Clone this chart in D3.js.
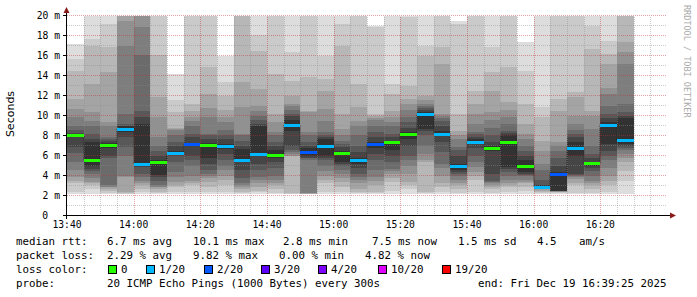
<!DOCTYPE html>
<html>
<head>
<meta charset="utf-8">
<script src="https://cdn.jsdelivr.net/npm/d3@7"></script>
<style>
body{margin:0;background:#fff}
text{font-family:"DejaVu Sans Mono",monospace}
</style>
</head>
<body>
<svg id="chart" width="697" height="297"></svg>
<script>
// one column every 5 minutes, starting 13:40
var startTime = new Date(2025, 11, 19, 13, 40),
	endTime = new Date(2025, 11, 19, 16, 40);

var medians = [8.0, 5.57, 7.07, 8.67, 5.13, 5.4, 6.23, 7.13, 7.07, 6.93, 5.53, 6.13, 6.03, 9.07, 6.4, 7.0, 6.23,
	5.53, 7.17, 7.33, 8.2, 10.17, 8.2, 4.93, 7.4, 6.73, 7.33, 4.97, 2.87, 4.2, 6.77, 5.23, 9.1, 7.53];

// lost pings (out of 20) per column
var losses = [0, 0, 0, 1, 1, 0, 1, 2, 0, 1, 1, 1, 0, 1, 2, 1, 0, 1, 2, 0, 0, 1, 1, 1, 1, 0, 0, 0, 1, 2, 1, 0, 1, 1];

// 20 sorted ping rtts (ms) per column, values over 20 are off the chart
var pings = [
	[2.2, 2.4, 3.3, 3.5, 3.9, 4.6, 5.4, 6.3, 6.9, 7.9, 8.1, 8.3, 8.6, 9.0, 9.9, 10.7, 11.7, 14.5, 15.7, 17.2],
	[2.2, 2.6, 3.0, 3.2, 3.4, 3.8, 4.2, 4.5, 4.7, 5.0, 7.4, 7.6, 8.2, 9.0, 9.5, 10.4, 13.2, 17.0, 17.7, 21],
	[2.2, 2.3, 2.5, 2.7, 2.8, 2.9, 3.0, 5.8, 5.9, 6.8, 7.3, 7.5, 7.7, 7.9, 8.9, 9.4, 14.4, 16.9, 19.2, 21],
	[2.2, 2.2, 2.3, 2.4, 3.9, 4.0, 5.9, 6.9, 7.9, 8.4, 8.9, 9.0, 9.2, 10.2, 17.0, 19.5, 21, 22, 22, 22],
	[2.2, 2.4, 2.6, 3.0, 3.2, 3.5, 3.9, 4.2, 4.9, 5.2, 9.2, 9.9, 10.5, 16.0, 18.9, 21, 22, 22, 22, 22],
	[2.2, 2.3, 2.4, 2.6, 2.8, 2.9, 3.1, 3.5, 3.9, 4.1, 5.5, 5.9, 6.5, 7.0, 7.9, 9.9, 11.9, 16.0, 21, 22],
	[2.2, 2.4, 2.8, 3.1, 3.4, 3.9, 4.4, 5.4, 5.9, 6.1, 6.5, 7.0, 7.4, 8.1, 8.6, 8.7, 8.8, 10.4, 11.6, 14.2],
	[2.2, 2.4, 3.0, 3.2, 3.5, 4.0, 5.0, 5.5, 5.9, 7.0, 7.2, 7.8, 8.2, 9.0, 9.5, 9.9, 10.5, 11.2, 21, 22],
	[2.2, 2.4, 2.8, 3.4, 3.8, 4.0, 4.2, 4.6, 5.2, 5.7, 7.3, 7.6, 8.0, 8.2, 9.9, 10.8, 12.2, 14.9, 21, 22],
	[2.2, 2.4, 3.0, 3.6, 4.0, 4.6, 5.0, 5.5, 6.2, 6.7, 7.2, 7.6, 8.0, 8.6, 9.4, 9.9, 10.6, 12.0, 13.4, 15.9],
	[2.2, 2.3, 2.4, 2.6, 2.8, 3.0, 3.2, 3.8, 4.6, 5.3, 6.7, 7.0, 7.5, 8.0, 8.2, 10.9, 13.4, 21, 22, 22],
	[2.2, 2.4, 2.5, 2.8, 3.2, 3.6, 3.9, 4.6, 5.2, 6.0, 8.9, 9.2, 9.6, 10.0, 10.5, 11.0, 12.7, 16.5, 18.0, 21],
	[2.2, 2.3, 2.6, 3.0, 3.2, 3.6, 4.0, 4.8, 5.4, 5.8, 6.6, 7.0, 7.4, 8.0, 8.4, 9.4, 10.2, 14.2, 21, 22],
	[2.2, 2.2, 2.3, 5.9, 6.0, 6.2, 6.4, 6.6, 7.0, 8.5, 9.6, 10.0, 10.2, 10.6, 11.0, 11.2, 12.0, 13.5, 16.4, 21],
	[2.2, 2.2, 2.2, 2.2, 2.3, 2.3, 5.6, 5.7, 5.8, 6.0, 6.8, 7.0, 7.4, 8.0, 8.4, 10.4, 10.5, 13.9, 21, 22],
	[2.2, 2.4, 3.2, 3.6, 4.0, 4.5, 5.0, 5.5, 5.8, 6.0, 7.6, 7.8, 8.0, 8.4, 9.5, 10.7, 12.5, 13.7, 15.9, 21],
	[2.2, 2.4, 2.9, 3.4, 3.8, 4.2, 4.6, 5.0, 5.2, 5.3, 6.5, 6.9, 7.2, 7.5, 8.0, 8.7, 10.2, 17.0, 19.2, 21],
	[2.2, 2.3, 2.4, 2.6, 3.2, 3.6, 3.9, 4.2, 4.8, 5.2, 5.8, 6.4, 7.0, 8.0, 9.0, 9.5, 10.9, 13.2, 21, 22],
	[2.2, 2.3, 2.4, 3.0, 3.5, 3.9, 4.6, 5.5, 6.2, 6.8, 7.4, 7.8, 8.4, 9.0, 9.6, 9.8, 10.0, 10.2, 18.9, 19.0],
	[2.2, 2.5, 3.4, 3.8, 4.2, 4.5, 4.7, 5.4, 6.0, 6.6, 7.5, 7.8, 8.2, 8.9, 9.3, 9.9, 10.5, 12.2, 13.2, 21],
	[2.2, 2.6, 3.0, 3.4, 4.2, 5.0, 5.5, 6.0, 7.0, 7.6, 8.4, 8.8, 9.3, 9.9, 10.6, 11.2, 11.7, 13.0, 19.9, 21],
	[2.2, 2.3, 2.4, 5.4, 5.6, 6.2, 7.0, 8.0, 8.5, 8.7, 10.4, 10.6, 10.8, 11.0, 11.2, 11.6, 12.0, 15.9, 17.0, 21],
	[2.2, 2.4, 2.9, 3.2, 4.0, 4.8, 5.2, 6.4, 7.4, 8.0, 8.5, 9.0, 9.5, 9.8, 10.0, 10.2, 15.2, 16.9, 21, 22],
	[2.2, 2.3, 2.6, 3.0, 3.2, 3.6, 4.0, 4.2, 4.4, 4.6, 5.2, 6.0, 6.6, 6.9, 7.6, 8.0, 8.5, 10.2, 19.2, 19.5],
	[2.2, 2.4, 3.6, 4.0, 4.4, 4.9, 5.4, 6.0, 6.8, 7.2, 7.6, 7.9, 8.2, 8.4, 9.2, 10.2, 11.2, 12.5, 21, 22],
	[2.2, 2.3, 2.6, 2.8, 3.0, 3.2, 3.4, 3.5, 4.2, 6.5, 7.0, 7.4, 8.0, 8.8, 9.6, 10.4, 12.5, 14.4, 16.9, 21],
	[2.2, 2.4, 2.8, 3.0, 3.2, 3.6, 4.0, 4.4, 4.7, 4.9, 8.0, 8.3, 8.5, 9.2, 9.9, 10.6, 11.4, 14.9, 21, 22],
	[2.2, 2.5, 2.8, 3.2, 3.4, 3.6, 4.0, 4.1, 4.2, 4.4, 5.6, 6.0, 6.5, 7.0, 7.6, 8.2, 9.2, 11.2, 14.5, 17.4],
	[2.2, 2.3, 2.4, 2.5, 2.6, 2.7, 2.8, 2.8, 2.9, 2.9, 3.0, 3.0, 3.6, 4.6, 5.2, 6.5, 7.5, 9.9, 10.9, 21],
	[2.2, 2.3, 2.4, 2.4, 2.4, 2.5, 2.5, 2.5, 2.5, 2.5, 4.4, 5.0, 5.8, 6.5, 7.0, 7.4, 10.5, 11.7, 21, 22],
	[2.2, 2.3, 3.0, 3.3, 3.7, 3.9, 4.0, 4.1, 4.2, 6.0, 7.4, 7.8, 8.2, 8.6, 9.2, 10.0, 11.8, 12.4, 21, 22],
	[2.2, 2.3, 2.6, 3.0, 3.2, 3.5, 4.0, 4.5, 4.8, 5.0, 5.4, 5.8, 6.2, 7.0, 8.7, 10.0, 10.5, 16.7, 19.0, 21],
	[2.2, 2.4, 3.0, 3.5, 4.0, 4.8, 5.5, 6.0, 6.5, 7.2, 9.4, 9.8, 10.2, 11.0, 12.2, 12.8, 15.2, 16.2, 17.5, 21],
	[2.2, 3.5, 4.5, 5.4, 5.8, 6.2, 6.6, 6.8, 7.0, 7.2, 9.8, 10.0, 10.4, 11.2, 15.2, 16.4, 17.4, 21, 22, 22]
];

var lossLevels = [0, 1, 2, 3, 4, 10, 19],
	lossLabels = ["0", "1/20", "2/20", "3/20", "4/20", "10/20", "19/20"],
	lossColors = ["#26ff00", "#00b8ff", "#0059ff", "#5e00ff", "#7e00ff", "#dd00ff", "#ff0000"];

var yTicks = [0, 2, 4, 6, 8, 10, 12, 14, 16, 18, 20];

var rttLine = ["median rtt:", "6.7 ms avg", "10.1 ms max", "2.8 ms min", "7.5 ms now", "1.5 ms sd", "4.5", "am/s"],
	lossLine = ["packet loss:", "2.29 % avg", "9.82 % max", "0.00 % min", "4.82 % now"],
	probeLine = ["probe:", "20 ICMP Echo Pings (1000 Bytes) every 300s", "end: Fri Dec 19 16:39:25 2025"];

var svg = d3.select("#chart");

var scaleX = d3.scaleTime().domain([startTime, endTime]).range([67, 667]),
	scaleY = d3.scaleLinear().domain([0, 20]).range([215.5, 15.5]).clamp(true);

function colStart(i){ return Math.round(scaleX(d3.timeMinute.offset(startTime, 5 * i))); }
function colEnd(i){ return Math.round(scaleX(d3.timeMinute.offset(startTime, 5 * (i + 1)))); }
function lossColor(l){
	var idx = 0;
	lossLevels.forEach(function(v, i){ if(l >= v) idx = i; });
	return lossColors[idx];
}

// smoke: nested bands, outer pings light, inner pings dark
var smoke = svg.append("g").attr("shape-rendering", "crispEdges");
pings.forEach(function(p, i){
	for(var b = 1; b <= 10; b++){
		var grey = Math.floor(190 / 10 * (10 - b)) + 50;
		var yTop = Math.round(scaleY(p[20 - b])),
			yBot = Math.round(scaleY(p[b - 1]));
		smoke.append("rect")
			.attr("x", colStart(i))
			.attr("width", colEnd(i) - colStart(i))
			.attr("y", yTop)
			.attr("height", Math.max(0, yBot - yTop))
			.style("fill", d3.rgb(grey, grey, grey));
	}
});

// grid on top
var grid = svg.append("g").attr("shape-rendering", "crispEdges");
for(var v = 1; v <= 20; v++){
	grid.append("line")
		.attr("x1", 67).attr("x2", 667)
		.attr("y1", scaleY(v)).attr("y2", scaleY(v))
		.style("stroke", v % 2 ? "#8c8c8c" : "#c03030")
		.style("stroke-opacity", 0.45)
		.style("stroke-dasharray", "1,1");
}
d3.timeMinute.every(5).range(d3.timeMinute.offset(startTime, 5), endTime).forEach(function(t){
	var major = t.getMinutes() % 20 == 0;
	grid.append("line")
		.attr("x1", Math.round(scaleX(t)) + 0.5).attr("x2", Math.round(scaleX(t)) + 0.5)
		.attr("y1", 215.5).attr("y2", 15.5)
		.style("stroke", major ? "#c03030" : "#8c8c8c")
		.style("stroke-opacity", 0.45)
		.style("stroke-dasharray", "1,1");
});

// median: dark step connectors + loss coloured segments
var stepPts = medians.map(function(m, i){ return [colStart(i), scaleY(m)]; });
stepPts.push([colEnd(medians.length - 1), scaleY(medians[medians.length - 1])]);
svg.append("path")
	.attr("d", d3.line().curve(d3.curveStepAfter)(stepPts))
	.style("fill", "none")
	.style("stroke", "#202020")
	.style("stroke-width", 1)
	.style("stroke-dasharray", "1,1");

svg.append("g").selectAll(".med")
	.data(medians)
	.enter()
	.append("rect")
	.attr("class", "med")
	.attr("x", function(d, i){ return colStart(i); })
	.attr("width", function(d, i){ return colEnd(i) - colStart(i); })
	.attr("y", function(d){ return Math.round(scaleY(d)) - 1; })
	.attr("height", 3)
	.attr("shape-rendering", "crispEdges")
	.style("fill", function(d, i){ return lossColor(losses[i]); });

// axes
svg.append("line").attr("x1", 63).attr("x2", 670).attr("y1", 215.5).attr("y2", 215.5)
	.style("stroke", "#000").attr("shape-rendering", "crispEdges");
svg.append("line").attr("x1", 66.5).attr("x2", 66.5).attr("y1", 219).attr("y2", 12)
	.style("stroke", "#000").attr("shape-rendering", "crispEdges");
svg.append("path").attr("d", "M670,212.5L676,215.5L670,218.5Z").style("fill", "#8b1a1a");
svg.append("path").attr("d", "M63.5,13L66.5,7L69.5,13Z").style("fill", "#8b1a1a");

yTicks.forEach(function(t){
	svg.append("line").attr("x1", 63).attr("x2", 66).attr("y1", scaleY(t)).attr("y2", scaleY(t))
		.style("stroke", "#000").attr("shape-rendering", "crispEdges");
	svg.append("text")
		.attr("x", t == 0 ? 48 : 60)
		.attr("y", scaleY(t) + 3.5)
		.attr("text-anchor", "end")
		.style("font-size", "9.7px")
		.text(t == 0 ? "0" : t + " m");
});

d3.timeMinute.every(20).range(startTime, endTime).forEach(function(t){
	svg.append("text")
		.attr("x", scaleX(t))
		.attr("y", 228)
		.attr("text-anchor", "middle")
		.style("font-size", "9.7px")
		.text(d3.timeFormat("%H:%M")(t));
});

svg.append("text")
	.attr("transform", "translate(14,114) rotate(-90)")
	.attr("text-anchor", "middle")
	.style("font-family", "DejaVu Sans")
	.style("font-size", "11px")
	.text("Seconds");

svg.append("text")
	.attr("transform", "translate(684,5) rotate(90)")
	.style("font-size", "8.5px")
	.style("fill", "#aaaaaa")
	.text("RRDTOOL / TOBI OETIKER");

// legend
var legendFont = "10.8px";
function legendRow(items, xs, y){
	items.forEach(function(s, i){
		svg.append("text").attr("x", xs[i]).attr("y", y)
			.style("font-size", legendFont).text(s);
	});
}
legendRow(rttLine, [16, 107, 193, 283, 372, 458, 537, 579], 245);
legendRow(lossLine, [16, 107, 193, 279, 365], 259);
legendRow(probeLine, [16, 107, 478], 287);
svg.append("text").attr("x", 16).attr("y", 273).style("font-size", legendFont).text("loss color:");

var boxX = [108, 146, 204, 261, 318, 378, 442];
lossLabels.forEach(function(l, i){
	svg.append("rect")
		.attr("x", boxX[i] + 0.5).attr("y", 265.5)
		.attr("width", 8).attr("height", 8)
		.style("fill", lossColors[i])
		.style("stroke", "#000");
	svg.append("text").attr("x", boxX[i] + 13).attr("y", 273)
		.style("font-size", legendFont).text(l);
});
</script>
</body>
</html>
